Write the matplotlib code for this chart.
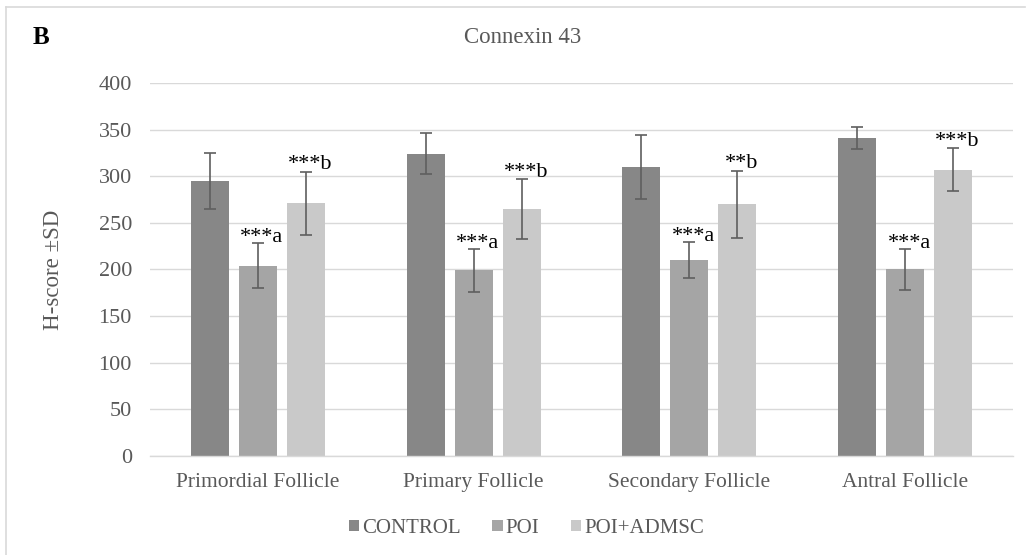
import numpy as np
import matplotlib
matplotlib.use("Agg")
import matplotlib.pyplot as plt
from matplotlib.lines import Line2D

# Données (H-score moyen et écart-type)
categories = ["Primordial Follicle", "Primary Follicle", "Secondary Follicle", "Antral Follicle"]
groupes = ["CONTROL", "POI", "POI+ADMSC"]
control_moy = [295, 324, 310, 341]
control_sd = [30, 22, 34, 12]
poi_moy = [204, 199, 210, 200]
poi_sd = [24, 23, 19, 22]
admsc_moy = [271, 265, 270, 307]
admsc_sd = [34, 32, 36, 23]
poi_labels = ["***a", "***a", "***a", "***a"]
admsc_labels = ["***b", "***b", "**b", "***b"]

couleurs = ["#878787", "#a5a5a5", "#c9c9c9"]
texte = "#595959"
plt.rcParams["font.family"] = ["Liberation Serif", "DejaVu Serif"]

fig = plt.figure(figsize=(10.3, 5.55), dpi=100)
ax = fig.add_axes([0.1456, 0.1784, 0.8379, 0.6721])

x = np.arange(len(categories))
larg = 0.176
pas = 0.2225
moyennes = [control_moy, poi_moy, admsc_moy]
sds = [control_sd, poi_sd, admsc_sd]
for i in range(3):
    ax.bar(x + (i - 1) * pas, moyennes[i], larg, color=couleurs[i], label=groupes[i], zorder=2)
    ax.errorbar(x + (i - 1) * pas, moyennes[i], yerr=sds[i], fmt="none", ecolor="#5f5f5f",
                elinewidth=1.2, capsize=4.5, capthick=1.2, zorder=3)

# Etiquettes de significativité au-dessus des barres d'erreur
for j in range(len(categories)):
    ax.annotate(poi_labels[j], (x[j], poi_moy[j] + poi_sd[j]), xytext=(3, 4),
                textcoords="offset points", ha="center", va="center", fontsize=16, color="black", zorder=4)
    ax.annotate(admsc_labels[j], (x[j] + pas, admsc_moy[j] + admsc_sd[j]), xytext=(3, 5),
                textcoords="offset points", ha="center", va="center", fontsize=16, color="black", zorder=4)

ax.set_xlim(-0.5, 3.5)
ax.set_ylim(0, 400)
ax.set_yticks(range(0, 401, 50))
ax.set_xticks(x)
ax.set_xticklabels(categories)
ax.yaxis.grid(True, color="#d9d9d9", linewidth=1.0, zorder=0)
ax.set_axisbelow(True)
for s in ["top", "right", "left"]:
    ax.spines[s].set_visible(False)
ax.spines["bottom"].set_color("#d9d9d9")
ax.spines["bottom"].set_linewidth(1.0)
ax.tick_params(axis="y", length=0, labelsize=16, colors=texte, pad=13)
ax.tick_params(axis="x", length=0, labelsize=15.5, colors=texte, pad=12)
ax.set_ylabel("H-score ±SD", fontsize=16.5, color=texte, labelpad=25)

fig.text(0.507, 0.933, "Connexin 43", ha="center", va="center", fontsize=16.5, color=texte)
fig.text(0.032, 0.933, "B", ha="left", va="center", fontsize=18, fontweight="bold", color="black")

leg = fig.legend(loc="center", bbox_to_anchor=(0.511, 0.048), ncol=3, frameon=False, fontsize=15,
                 handlelength=0.5, handleheight=0.5, handletextpad=0.15, columnspacing=1.5)
for t in leg.get_texts():
    t.set_color(texte)

# Cadre du graphique
fig.add_artist(Line2D([0.006, 0.006], [0.0, 0.987], color="#d9d9d9", linewidth=1.2))
fig.add_artist(Line2D([0.006, 0.995], [0.987, 0.987], color="#d9d9d9", linewidth=1.2))

fig.savefig("out.png", dpi=100)
